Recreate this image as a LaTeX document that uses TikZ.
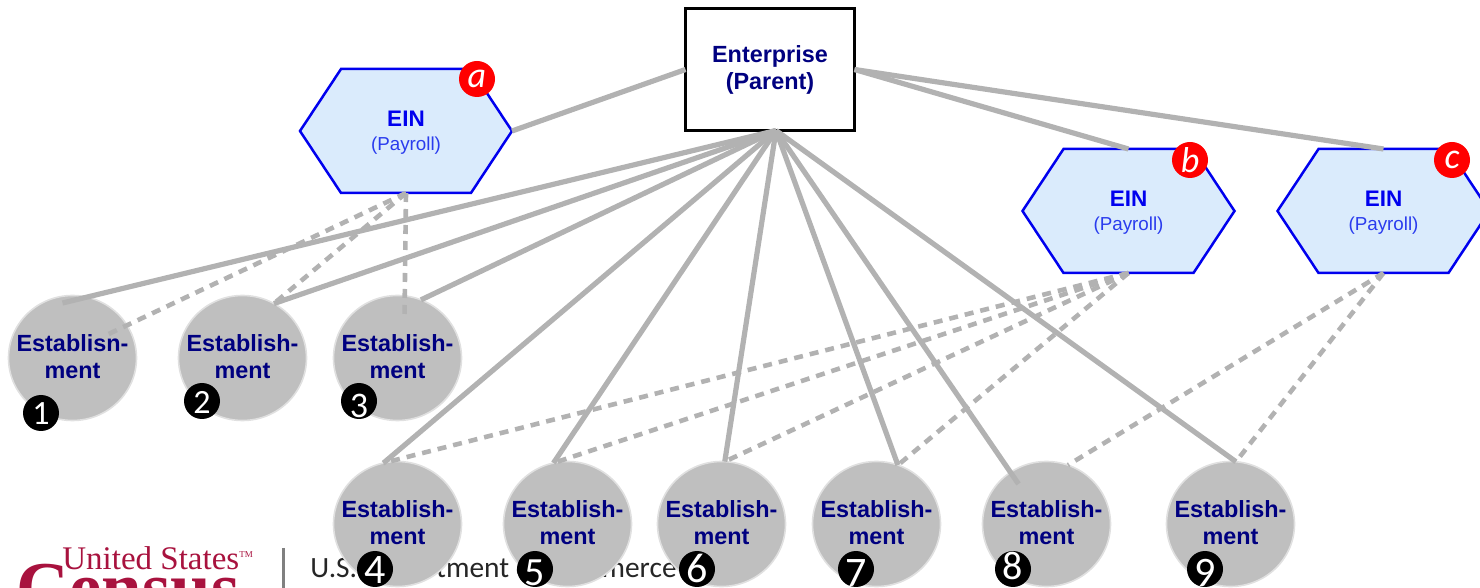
\documentclass[tikz,border=0pt]{standalone}
\usepackage{fontspec}
\setmainfont{Liberation Sans}
\newfontfamily\badgefont{Carlito}
\newfontfamily\logoserif{Liberation Serif}
\usepackage{tikz}
\usetikzlibrary{positioning,shapes.geometric,shapes.symbols}
\definecolor{navytext}{HTML}{000080}
\definecolor{einblue}{HTML}{0000EE}
\definecolor{einfill}{HTML}{DAEBFC}
\definecolor{payrollblue}{HTML}{2A3CEE}
\definecolor{linkgray}{HTML}{B2B2B2}
\definecolor{censusred}{HTML}{A8123E}
% digit of a badge: font size, drop below the centre, digit
\newcommand{\badgedigit}[3]{\raisebox{#2}[7pt][7pt]{\fontsize{#1}{#1}\selectfont #3}}
\newcommand{\eintext}{{\fontsize{11.25}{12}\selectfont\bfseries EIN}\\{\color{payrollblue}\fontsize{9.4}{12}\selectfont (Payroll)}}

\begin{document}
\begin{tikzpicture}[x=0.5pt,y=-0.5pt,
    parentnode/.style={rectangle, draw=black, fill=white, line width=1.5pt, minimum width=84.5pt, minimum height=61pt, inner sep=0pt, outer sep=0pt, align=center, text=navytext, font=\fontsize{11.7}{13.5}\selectfont\bfseries},
    einnode/.style={signal, signal to=east and west, signal pointer angle=113, draw=einblue, fill=einfill, line width=1.25pt, minimum width=106pt, minimum height=62pt, inner sep=0pt, outer sep=0pt, text depth=0pt, align=center, text=einblue},
    estnode/.style={ellipse, draw=black!12, fill=black!25, line width=0.8pt, minimum width=64pt, minimum height=62.5pt, inner xsep=-10pt, inner ysep=0pt, outer sep=0pt, text depth=1pt, align=center, text=navytext, font=\fontsize{11.7}{13.5}\selectfont\bfseries},
    letterbadge/.style={circle, fill=red, text=white, minimum size=18pt, inner sep=0pt, font=\badgefont\itshape\fontsize{18}{18}\selectfont},
    numberbadge/.style={circle, fill=black, text=white, minimum size=18pt, inner sep=0pt, font=\badgefont},
    solidlink/.style={draw=linkgray, line width=2.6pt},
    dashedlink/.style={draw=linkgray, line width=2.3pt, dash pattern=on 4.5pt off 3.5pt}
   ]
   \useasboundingbox (0,0) rectangle (1480,588);
   \clip (0,0) rectangle (1480,588);

   % footer behind the circles
   \node[anchor=base west, inner sep=0pt, text=censusred, font=\logoserif\bfseries\fontsize{36.5}{37}\selectfont] (census) at (16,612) {Census};
   \node[anchor=base west, inner sep=0pt, text=censusred, font=\logoserif\fontsize{16.5}{16.5}\selectfont] (unitedstates) at (62,570) {United States\raisebox{6pt}{\fontsize{4.5}{5}\selectfont TM}};
   \draw[black!50, line width=1.5pt] (283,548) -- (283,588);
   \node[anchor=base west, inner sep=0pt, text=black!85, font=\badgefont\fontsize{14.7}{15}\selectfont] (commerce) at (310,577) {U.S. Department of Commerce};

   \node[parentnode] (enterprise) at (770,69.5) {Enterprise\\(Parent)};
   \node[einnode] (einA) at (406,131) {\eintext};
   \node[einnode] (einB) at (1128.5,211) {\eintext};
   \node[einnode] (einC) at (1383.5,211) {\eintext};

   \node[estnode] (est1) at (72.5,358) {Establisn-\\ment};
   \node[estnode] (est2) [right=21pt of est1] {Establish-\\ment};
   \node[estnode] (est3) [right=13.5pt of est2] {Establish-\\ment};
   \node[estnode] (est4) [below=20.5pt of est3] {Establish-\\ment};
   \node[estnode] (est5) [right=21pt of est4] {Establish-\\ment};
   \node[estnode] (est6) [right=13pt of est5] {Establish-\\ment};
   \node[estnode] (est7) [right=13.5pt of est6] {Establish-\\ment};
   \node[estnode] (est8) [right=21pt of est7] {Establish-\\ment};
   \node[estnode] (est9) [right=28pt of est8] {Establish-\\ment};

   \coordinate (fan) at ([xshift=3pt]enterprise.south);

   \draw[solidlink] (enterprise.west) -- (einA.east);
   \draw[solidlink] (enterprise.east) -- (einB.north);
   \draw[solidlink] (enterprise.east) -- (einC.north);
   \draw[solidlink] (fan) -- ([shift={(-10,-55)}]est1.center);
   \draw[solidlink] (fan) -- (est2.60);
   \draw[solidlink] (fan) -- (est3.68);
   \draw[solidlink] (fan) -- (est4.103);
   \draw[solidlink] (fan) -- (est5.103);
   \draw[solidlink] (fan) -- (est6.87);
   \draw[solidlink] (fan) -- (est7.70);
   \draw[solidlink] (fan) -- ([shift={(-28,-40)}]est8.center);
   \draw[solidlink] (fan) -- (est9.85);

   \draw[dashedlink] (einA.south) -- ([shift={(34,-23)}]est1.center);
   \draw[dashedlink] (einA.south) -- (est2.60);
   \draw[dashedlink] (einA.south) -- ([shift={(7,-40)}]est3.center);
   \draw[dashedlink] (einB.south) -- (est4.103);
   \draw[dashedlink] (einB.south) -- (est5.103);
   \draw[dashedlink] (einB.south) -- (est6.87);
   \draw[dashedlink] (einB.south) -- (est7.70);
   \draw[dashedlink] (einC.south) -- (est8.70);
   \draw[dashedlink] (einC.south) -- (est9.85);

   \node[letterbadge] (badgeA) at (477,79) {a};
   \node[letterbadge] (badgeB) at (1190,160) {b};
   \node[letterbadge] (badgeC) at (1452,160) {c};

   \node[numberbadge] (badge1) at (41,413) {\badgedigit{17}{-6pt}{1}};
   \node[numberbadge] (badge2) at (202,401) {\badgedigit{17}{-6pt}{2}};
   \node[numberbadge] (badge3) at (359,401) {\badgedigit{18}{-8.5pt}{3}};
   \node[numberbadge] (badge4) at (375,569) {\badgedigit{21}{-7pt}{4}};
   \node[numberbadge] (badge5) at (535,569) {\badgedigit{20}{-8.5pt}{5}};
   \node[numberbadge] (badge6) at (697,569) {\badgedigit{21}{-6.5pt}{6}};
   \node[numberbadge] (badge7) at (856,569) {\badgedigit{21}{-9pt}{7}};
   \node[numberbadge] (badge8) at (1013,569) {\badgedigit{20}{-5.5pt}{8}};
   \node[numberbadge] (badge9) at (1205,569) {\badgedigit{21}{-9pt}{9}};
\end{tikzpicture}
\end{document}
